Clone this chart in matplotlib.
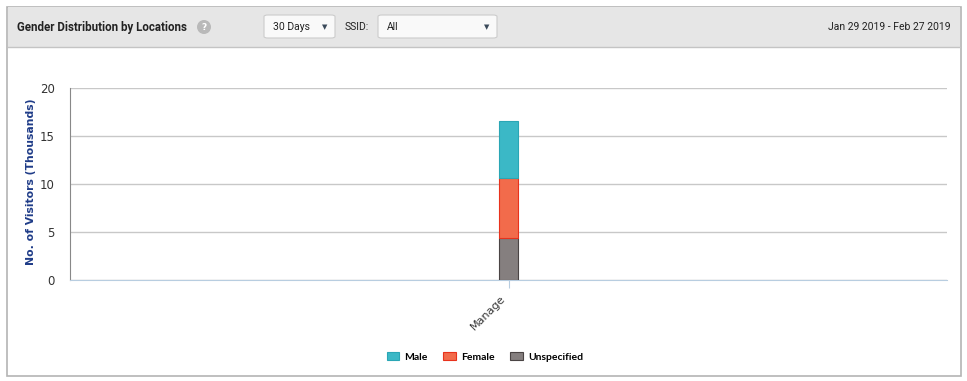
import matplotlib.pyplot as plt
from matplotlib.patches import Rectangle, FancyBboxPatch, Ellipse
from matplotlib.transforms import ScaledTranslation

# data (thousands of visitors)
locations = ["Manage"]
unspecified = [4.4]
female = [6.2]
male = [5.95]

series_names = ["Male", "Female", "Unspecified"]
colors = {"Male": "#3bb8c6", "Female": "#f26b4b", "Unspecified": "#857f7f"}
edges = {"Male": "#2aa6b5", "Female": "#e8321c", "Unspecified": "#4a4444"}

W, H = 967, 381
fig = plt.figure(figsize=(W / 100, H / 100), dpi=100)


def fx(px):
    return px / W


def fy(py):
    return 1 - py / H


# outer frame + header band (drawn behind the axes)
fig.patches.append(Rectangle((fx(7), fy(376)), fx(954), 369 / H, transform=fig.transFigure,
                             facecolor="white", edgecolor="#b4b4b4", lw=1.2, zorder=-5))
fig.patches.append(Rectangle((fx(8), fy(47)), fx(952), 40 / H, transform=fig.transFigure,
                             facecolor="#e6e6e6", edgecolor="none", zorder=-4))
fig.add_artist(plt.Line2D([fx(8), fx(960)], [fy(47), fy(47)], color="#c4c4c4", lw=1))

fig.text(fx(17), fy(27), "Gender Distribution by Locations", fontsize=8.3, fontweight="bold",
         family="Roboto", color="#222222", va="center")
fig.patches.append(Ellipse((fx(204), fy(27)), 14 / W, 14 / H, transform=fig.transFigure,
                           facecolor="#b9b9b9", edgecolor="none"))
fig.text(fx(204), fy(27.5), "?", fontsize=6.5, color="white", ha="center", va="center",
         fontweight="bold")

# dropdowns
for x0, x1, label in [(264, 335, "30 Days"), (378, 497, "All")]:
    fig.patches.append(FancyBboxPatch((fx(x0), fy(38)), fx(x1 - x0), 23 / H,
                                      boxstyle="round,pad=0,rounding_size=0.004",
                                      transform=fig.transFigure, facecolor="#f9f9f9",
                                      edgecolor="#cccccc", lw=0.8))
    fig.text(fx(x0 + 9), fy(27), label, fontsize=7.5, family="Roboto", color="#222222", va="center")
    fig.text(fx(x1 - 10), fy(27.5), "\u25bc", fontsize=5, color="#3a4a5a", ha="center", va="center")
fig.text(fx(345), fy(27), "SSID:", fontsize=7.5, family="Roboto", color="#222222", va="center")
fig.text(fx(951), fy(27), "Jan 29 2019 - Feb 27 2019", fontsize=7.5, family="Roboto",
         color="#222222", ha="right", va="center")

# chart
ax = fig.add_axes([fx(70), fy(280), fx(947 - 70), (280 - 88) / H])
ax.set_zorder(2)
ax.patch.set_alpha(0)
x = list(range(len(locations)))
bw = 19 / 877
ax.bar(x, unspecified, bw, color=colors["Unspecified"], edgecolor=edges["Unspecified"], lw=0.8,
       label="Unspecified", zorder=3)
ax.bar(x, female, bw, bottom=unspecified, color=colors["Female"], edgecolor=edges["Female"],
       lw=0.8, label="Female", zorder=3)
bottom2 = [u + f for u, f in zip(unspecified, female)]
ax.bar(x, male, bw, bottom=bottom2, color=colors["Male"], edgecolor=edges["Male"], lw=0.8,
       label="Male", zorder=3)

ax.set_xlim(-0.5, len(locations) - 0.5)
ax.set_ylim(0, 20)
ax.set_yticks([0, 5, 10, 15, 20])
ax.yaxis.grid(True, color="#c8c8c8", lw=1, zorder=0)
ax.set_axisbelow(True)
for s in ["top", "right"]:
    ax.spines[s].set_visible(False)
ax.spines["left"].set_color("#888888")
ax.spines["bottom"].set_color("#b8cde0")
ax.tick_params(axis="y", length=0, pad=11, labelsize=8.5, labelcolor="#333333")
ax.tick_params(axis="x", length=6, color="#b8cde0", labelsize=8, labelcolor="#333333")
ax.set_xticks(x)
ax.set_xticklabels(locations, rotation=45, ha="right", rotation_mode="anchor")
shift = ScaledTranslation(-8 / 100, 0, fig.dpi_scale_trans)
for lbl in ax.get_xticklabels():
    lbl.set_transform(lbl.get_transform() + shift)
ax.set_ylabel("No. of Visitors (Thousands)", fontsize=7.8, fontweight="bold", color="#1f3c88")
ax.yaxis.set_label_coords((36 - 70) / 877, 0.51)

handles, labels = ax.get_legend_handles_labels()
order = [labels.index(n) for n in series_names]
fig.legend([handles[i] for i in order], [labels[i] for i in order], loc="center",
           bbox_to_anchor=(fx(485), fy(357)), ncol=3, frameon=False,
           prop={"size": 7.5, "weight": "bold", "family": "Lato"},
           handlelength=1.2, handleheight=0.8, columnspacing=1.5, handletextpad=0.5)

fig.savefig("out.png", dpi=100)
